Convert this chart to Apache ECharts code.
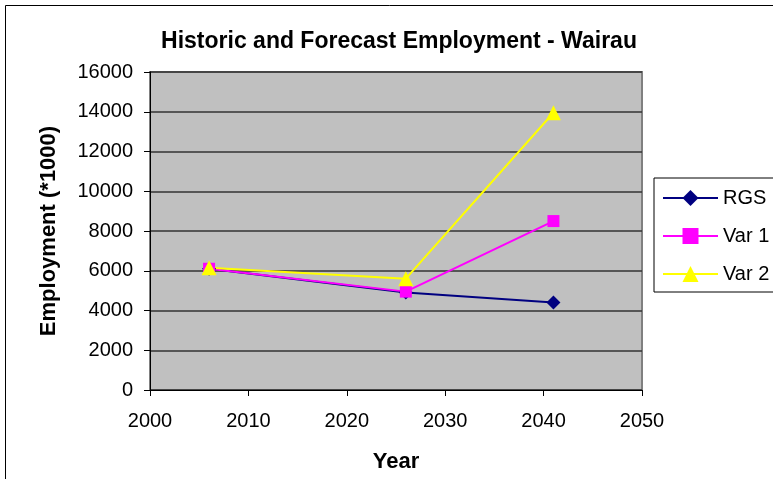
<!DOCTYPE html>
<html>
<head>
<meta charset="utf-8">
<script src="https://cdn.jsdelivr.net/npm/echarts@6/dist/echarts.min.js"></script>
<style>
  html, body { margin: 0; padding: 0; background: #fff; }
  #chart { width: 773px; height: 479px; }
</style>
</head>
<body>
<div id="chart"></div>
<script>
// Employment forecasts for Wairau (thousands), by year
var years = [2006, 2026, 2041];
var rgs  = [6100, 4900, 4400];
var var1 = [6100, 4950, 8500];
var var2 = [6150, 5600, 13950];
var seriesNames = ['RGS', 'Var 1', 'Var 2'];

function pairs(xs, ys) {
  return xs.map(function (x, i) { return [x, ys[i]]; });
}

var font = 'Liberation Sans, Arial, sans-serif';
var plain = function (v) { return String(v); };
var chart = echarts.init(document.getElementById('chart'), null, { renderer: 'canvas' });

chart.setOption({
  animation: false,
  backgroundColor: '#ffffff',
  graphic: [{
    type: 'rect',
    shape: { x: 5.5, y: 5.5, width: 900, height: 600 },
    style: { fill: 'none', stroke: '#000', lineWidth: 1 },
    z: -10
  }],
  title: {
    text: 'Historic and Forecast Employment - Wairau',
    left: 394, top: 25, textAlign: 'center',
    textStyle: { fontFamily: font, fontSize: 23, fontWeight: 'bold', color: '#000' }
  },
  grid: {
    left: 150, top: 72, right: 131, bottom: 89,
    show: true, backgroundColor: '#C0C0C0', borderColor: '#808080', borderWidth: 2
  },
  legend: {
    orient: 'vertical',
    left: 654, top: 178,
    padding: [10, 30, 8, 8],
    itemGap: 18,
    itemWidth: 55, itemHeight: 20,
    borderColor: '#000', borderWidth: 1,
    textStyle: { fontFamily: font, fontSize: 20, color: '#000' },
    data: seriesNames
  },
  xAxis: {
    type: 'value', min: 2000, max: 2050, interval: 10,
    name: 'Year', nameLocation: 'middle', nameGap: 61,
    nameTextStyle: { fontFamily: font, fontSize: 22, fontWeight: 'bold', color: '#000' },
    axisLine: { show: true, lineStyle: { color: '#000', width: 1 } },
    axisTick: { show: true, length: 6, lineStyle: { color: '#000' } },
    axisLabel: { fontFamily: font, fontSize: 20, color: '#000', margin: 21, formatter: plain },
    splitLine: { show: false }
  },
  yAxis: {
    type: 'value', min: 0, max: 16000, interval: 2000,
    name: 'Employment (*1000)', nameLocation: 'middle', nameGap: 90,
    nameTextStyle: { fontFamily: font, fontSize: 22, fontWeight: 'bold', color: '#000' },
    axisLine: { show: true, lineStyle: { color: '#000', width: 1 } },
    axisTick: { show: true, length: 6, lineStyle: { color: '#000' } },
    axisLabel: { fontFamily: font, fontSize: 20, color: '#000', margin: 17, formatter: plain },
    splitLine: { show: true, lineStyle: { color: '#333', width: 1.5 } }
  },
  series: [
    {
      name: 'RGS', type: 'line', data: pairs(years, rgs),
      symbol: 'diamond', symbolSize: 14,
      lineStyle: { color: '#000080', width: 2 },
      itemStyle: { color: '#000080' }
    },
    {
      name: 'Var 1', type: 'line', data: pairs(years, var1),
      symbol: 'rect', symbolSize: 12,
      lineStyle: { color: '#FF00FF', width: 2 },
      itemStyle: { color: '#FF00FF' }
    },
    {
      name: 'Var 2', type: 'line', data: pairs(years, var2),
      symbol: 'triangle', symbolSize: 15,
      lineStyle: { color: '#FFFF00', width: 2 },
      itemStyle: { color: '#FFFF00' }
    }
  ]
});
</script>
</body>
</html>
